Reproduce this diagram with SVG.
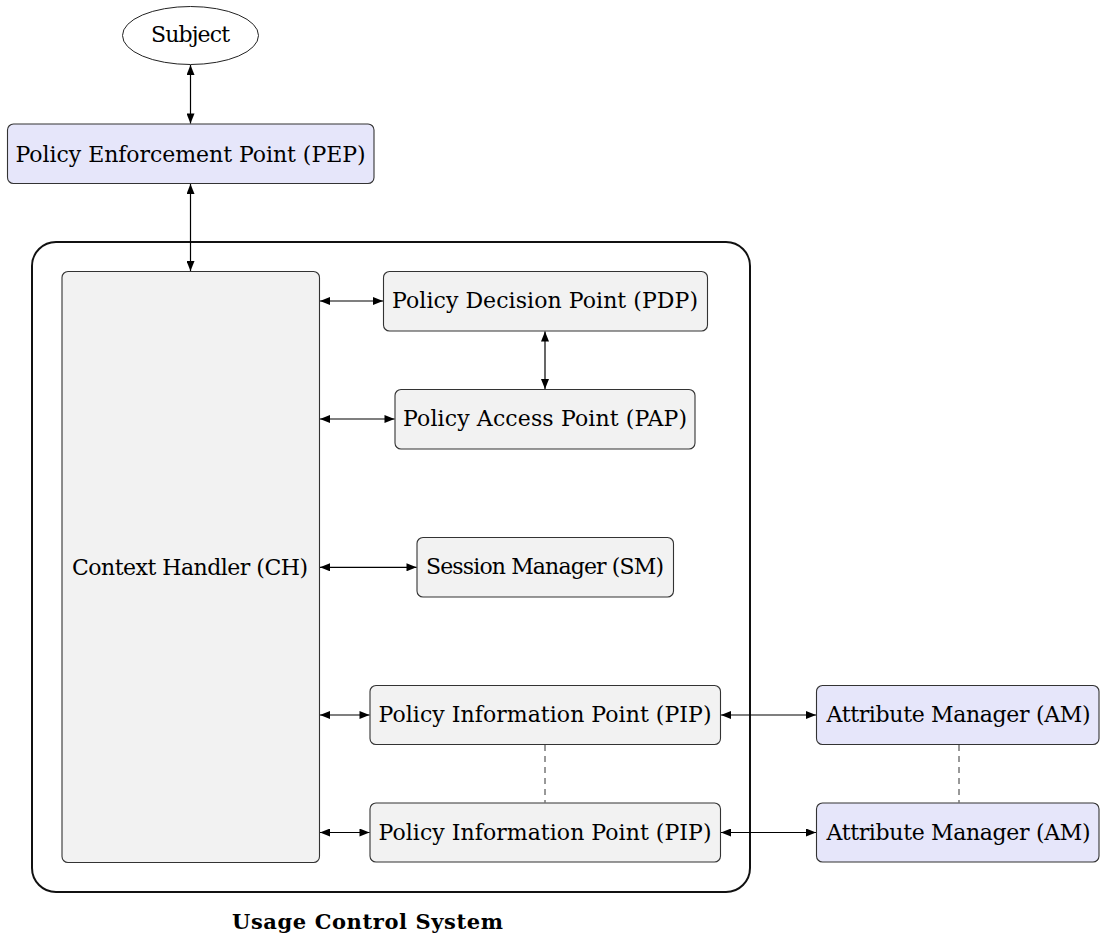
<svg xmlns="http://www.w3.org/2000/svg" width="1100" height="938" viewBox="0 0 1100 938">
<style>
text{font-size:22px;fill:#000;text-anchor:middle}
.blue{fill:#e6e6fa;stroke:#333;stroke-width:1.1}
.gray{fill:#f2f2f2;stroke:#333;stroke-width:1.1}
.conn{stroke:#000;stroke-width:1.2;fill:none;marker-start:url(#ah);marker-end:url(#ah)}
.dash{stroke:#333;stroke-width:1;fill:none;stroke-dasharray:6,5}
.title{font-weight:bold;font-size:21px}
</style>
<defs>
<marker id="ah" viewBox="0 0 10 8" refX="10" refY="4" markerWidth="11" markerHeight="8" markerUnits="userSpaceOnUse" orient="auto-start-reverse">
<path d="M0,0 L10,4 L0,8 Z" fill="#000"/>
</marker>
</defs>
<g font-family="'DejaVu Serif', 'Liberation Serif', serif">
<g id="container">
<rect x="32" y="242" width="718" height="650" rx="24" fill="none" stroke="#111" stroke-width="2"/>
<text class="title" x="367.5" y="929" textLength="271">Usage Control System</text>
</g>
<g id="subject">
<ellipse cx="190.5" cy="35.5" rx="68" ry="29" fill="#fff" stroke="#222" stroke-width="1"/>
<text x="190.5" y="42" textLength="79">Subject</text>
</g>
<g id="pep">
<rect class="blue" x="7.5" y="124" width="366.5" height="59.5" rx="6"/>
<text x="190.5" y="162" textLength="350">Policy Enforcement Point (PEP)</text>
</g>
<g id="ch">
<rect class="gray" x="62" y="271.5" width="257.5" height="591" rx="6"/>
<text x="190" y="575" textLength="236">Context Handler (CH)</text>
</g>
<g id="pdp">
<rect class="gray" x="383.5" y="271.5" width="324" height="59.5" rx="6"/>
<text x="545" y="308" textLength="306">Policy Decision Point (PDP)</text>
</g>
<g id="pap">
<rect class="gray" x="395" y="389.5" width="300" height="59.5" rx="6"/>
<text x="545" y="426" textLength="284">Policy Access Point (PAP)</text>
</g>
<g id="sm">
<rect class="gray" x="417" y="537.5" width="256.5" height="59.5" rx="6"/>
<text x="545" y="574" textLength="238">Session Manager (SM)</text>
</g>
<g id="pip1">
<rect class="gray" x="370" y="685.5" width="350.5" height="59" rx="6"/>
<text x="545" y="722" textLength="333">Policy Information Point (PIP)</text>
</g>
<g id="pip2">
<rect class="gray" x="370" y="803" width="350.5" height="59" rx="6"/>
<text x="545" y="839.5" textLength="333">Policy Information Point (PIP)</text>
</g>
<g id="am1">
<rect class="blue" x="816.5" y="685.5" width="282.5" height="59" rx="6"/>
<text x="958.5" y="722" textLength="264">Attribute Manager (AM)</text>
</g>
<g id="am2">
<rect class="blue" x="816.5" y="803" width="282.5" height="59" rx="6"/>
<text x="958.5" y="839.5" textLength="264">Attribute Manager (AM)</text>
</g>
</g>
<g id="connectors">
<line class="conn" x1="190.5" y1="65" x2="190.5" y2="123.5"/>
<line class="conn" x1="190.5" y1="184" x2="190.5" y2="271"/>
<line class="conn" x1="320" y1="301" x2="383" y2="301"/>
<line class="conn" x1="545" y1="331.5" x2="545" y2="389"/>
<line class="conn" x1="320" y1="419" x2="394.5" y2="419"/>
<line class="conn" x1="320" y1="567.3" x2="416.5" y2="567.3"/>
<line class="conn" x1="320" y1="715" x2="369.5" y2="715"/>
<line class="conn" x1="320" y1="832.5" x2="369.5" y2="832.5"/>
<line class="conn" x1="721" y1="715" x2="816" y2="715"/>
<line class="conn" x1="721" y1="832.5" x2="816" y2="832.5"/>
<line class="dash" x1="545" y1="745" x2="545" y2="802.5"/>
<line class="dash" x1="959" y1="745" x2="959" y2="802.5"/>
</g>
</svg>
